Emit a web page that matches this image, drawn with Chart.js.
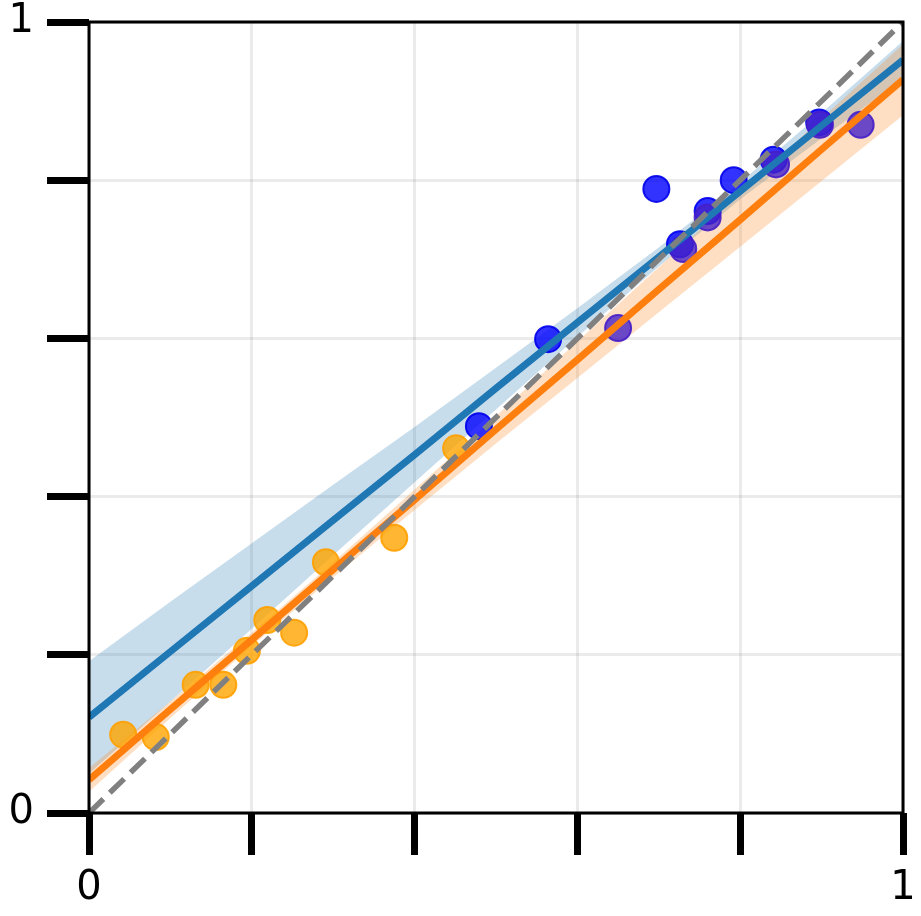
<!DOCTYPE html>
<html>
<head>
<meta charset="utf-8">
<script src="https://cdn.jsdelivr.net/npm/chart.js@4.4.1/dist/chart.umd.min.js"></script>
<style>
  html, body { margin: 0; padding: 0; background: #fff; }
  #wrap { width: 921px; height: 916px; }
</style>
</head>
<body>
<div id="wrap"><canvas id="myChart" width="921" height="916"></canvas></div>
<script>
// scatter points
const orangeX = [0.042, 0.082, 0.131, 0.165, 0.194, 0.219, 0.252, 0.291, 0.375, 0.451];
const orangeY = [0.099, 0.096, 0.162, 0.162, 0.205, 0.244, 0.228, 0.317, 0.348, 0.461];
const blueX = [0.479, 0.564, 0.697, 0.726, 0.760, 0.792, 0.841, 0.897];
const blueY = [0.489, 0.599, 0.789, 0.719, 0.761, 0.800, 0.826, 0.873];
const purpleX = [0.650, 0.730, 0.760, 0.844, 0.898, 0.948];
const purpleY = [0.613, 0.713, 0.753, 0.820, 0.870, 0.870];

// regression lines and their bands, read at these x positions
const bandX = [0, 0.1, 0.2, 0.3, 0.4, 0.5, 0.6, 0.7, 0.8, 0.9, 1];
const blueFit = [0.121, 0.204, 0.287, 0.370, 0.453, 0.537, 0.620, 0.703, 0.786, 0.869, 0.952];
const blueUpper = [0.192, 0.267, 0.341, 0.415, 0.488, 0.563, 0.638, 0.715, 0.797, 0.885, 0.976];
const blueLower = [0.050, 0.141, 0.233, 0.326, 0.418, 0.510, 0.602, 0.691, 0.776, 0.853, 0.928];
const orangeFit = [0.042, 0.131, 0.219, 0.308, 0.396, 0.485, 0.573, 0.662, 0.750, 0.839, 0.927];
const orangeUpper = [0.057, 0.141, 0.228, 0.317, 0.409, 0.502, 0.596, 0.690, 0.784, 0.878, 0.972];
const orangeLower = [0.027, 0.120, 0.211, 0.298, 0.383, 0.467, 0.550, 0.633, 0.716, 0.799, 0.882];

const diagX = [0, 1];
const diagY = [0, 1];
const tickLabels = { 0: '0', 1: '1' };

const pts = (xs, ys) => xs.map((x, i) => ({ x: x, y: ys[i] }));

const frame = {
  id: 'frame',
  afterDatasetsDraw(chart) {
    const a = chart.chartArea;
    const ctx = chart.ctx;
    ctx.save();
    ctx.strokeStyle = '#000';
    ctx.lineWidth = 3;
    ctx.strokeRect(a.left, a.top, a.right - a.left, a.bottom - a.top);
    ctx.restore();
  }
};

const band = (ys, color, fill) => ({
  type: 'line',
  data: pts(bandX, ys),
  borderWidth: 0,
  pointRadius: 0,
  backgroundColor: color,
  fill: fill,
  order: 9
});

const tickCb = (v) => {
  if (Math.abs(v) < 1e-9) return tickLabels[0];
  if (Math.abs(v - 1) < 1e-9) return tickLabels[1];
  return '';
};

const axis = (fit) => ({
  type: 'linear',
  min: 0,
  max: 1,
  border: { display: false },
  grid: {
    color: 'rgba(0,0,0,0.08)',
    lineWidth: 3,
    tickColor: '#000',
    tickWidth: 7,
    tickLength: 42
  },
  ticks: {
    stepSize: 0.2,
    autoSkip: false,
    maxRotation: 0,
    color: '#000',
    padding: fit === 'x' ? 14 : 13,
    font: { family: 'DejaVu Sans', size: 40, lineHeight: 1 },
    callback: tickCb
  },
  afterFit: (s) => {
    if (fit === 'x') s.height = 103; else s.width = 89;
    s.paddingTop = 0;
    s.paddingBottom = 0;
    s.paddingLeft = 0;
    s.paddingRight = 0;
  }
});

const draw = () => {
  const ctx = document.getElementById('myChart').getContext('2d');
  new Chart(ctx, {
    type: 'scatter',
    data: {
      datasets: [
        {
          type: 'line',
          data: pts(diagX, diagY),
          borderColor: 'rgb(128,128,128)',
          borderWidth: 5.5,
          borderDash: [20, 9],
          pointRadius: 0,
          fill: false,
          order: 0
        },
        {
          type: 'line',
          data: pts(bandX, orangeFit),
          borderColor: '#ff7f0e',
          borderWidth: 7,
          pointRadius: 0,
          fill: false,
          order: 1
        },
        {
          type: 'line',
          data: pts(bandX, blueFit),
          borderColor: '#1f77b4',
          borderWidth: 7,
          pointRadius: 0,
          fill: false,
          order: 1
        },
        band(orangeUpper, 'rgba(255,127,14,0.25)', '+1'),
        band(orangeLower, 'rgba(255,127,14,0.25)', false),
        band(blueUpper, 'rgba(31,119,180,0.25)', '+1'),
        band(blueLower, 'rgba(31,119,180,0.25)', false),
        {
          data: pts(purpleX, purpleY),
          backgroundColor: 'rgba(70,35,200,0.8)',
          borderColor: 'rgba(70,30,200,0.9)',
          borderWidth: 2,
          pointRadius: 13,
          order: 3
        },
        {
          data: pts(blueX, blueY),
          backgroundColor: 'rgba(0,0,255,0.8)',
          borderColor: 'rgba(0,0,235,0.9)',
          borderWidth: 2,
          pointRadius: 13,
          order: 4
        },
        {
          data: pts(orangeX, orangeY),
          backgroundColor: 'rgba(255,165,0,0.8)',
          borderColor: 'rgba(255,160,0,0.9)',
          borderWidth: 2,
          pointRadius: 13,
          order: 4
        }
      ]
    },
    options: {
      responsive: false,
      animation: false,
      layout: { padding: { top: 22, right: 18, left: 0, bottom: 0 } },
      plugins: {
        legend: { display: false },
        tooltip: { enabled: false }
      },
      scales: {
        x: axis('x'),
        y: axis('y')
      }
    },
    plugins: [frame]
  });
};

window.onload = () => {
  draw();
};
</script>
</body>
</html>
